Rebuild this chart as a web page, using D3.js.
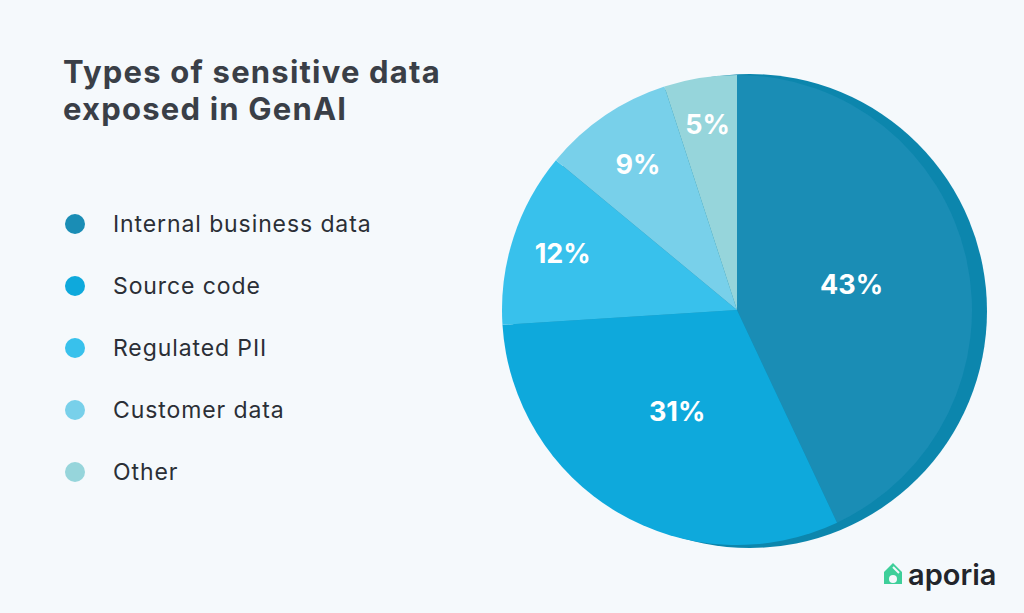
<!DOCTYPE html>
<html lang="en">
<head>
<meta charset="UTF-8">
<script src="https://d3js.org/d3.v7.min.js"></script>
<style>
  body { margin: 0; background: #f5f9fc; }
  svg { display: block; font-family: Inter, "Open Sans", sans-serif; }
</style>
</head>
<body>
<script>
const categories = ["Internal business data", "Source code", "Regulated PII", "Customer data", "Other"];
const values = [43, 31, 12, 9, 5];
const colors = ["#1a8db5", "#0ea9dc", "#38c1ec", "#78d0ea", "#96d5db"];

const width = 1024, height = 613;
const cx = 737, cy = 310, r = 235;

const svg = d3.select("body").append("svg")
  .attr("width", width).attr("height", height);

svg.append("rect").attr("width", width).attr("height", height).attr("fill", "#f5f9fc");

// title
svg.append("text").attr("x", 63).attr("y", 0)
  .attr("font-size", 31).attr("font-weight", 700).attr("fill", "#3a3f47")
  .attr("letter-spacing", 1.2)
  .selectAll("tspan").data(["Types of sensitive data", "exposed in GenAI"]).join("tspan")
  .attr("x", 63).attr("y", (d, i) => 83 + i * 37).text(d => d);

// legend
const ly = d3.scalePoint().domain(categories).range([224, 472]);
const leg = svg.append("g").selectAll("g").data(categories).join("g")
  .attr("transform", d => `translate(0,${ly(d)})`);
leg.append("circle").attr("cx", 75).attr("r", 10).attr("fill", (d, i) => colors[i]);
leg.append("text").attr("x", 113).attr("dy", "0.35em")
  .attr("font-size", 23).attr("letter-spacing", 0.9).attr("fill", "#2b2f36").text(d => d);

// rim (shadow disc)
svg.append("circle").attr("cx", cx + 13).attr("cy", cy + 1).attr("r", 237).attr("fill", "#0c86ad");

const pie = d3.pie().sort(null).value(d => d)(values);
const arc = d3.arc().innerRadius(0).outerRadius(r);

const g = svg.append("g").attr("transform", `translate(${cx},${cy})`);
g.selectAll("path").data(pie).join("path")
  .attr("d", arc).attr("fill", (d, i) => colors[i]);

const labelR = [0.5, 0.5, 0.78, 0.75, 0.8];
g.selectAll("text").data(pie).join("text")
  .attr("transform", (d, i) => {
    const a = d3.arc().innerRadius(r * labelR[i]).outerRadius(r * labelR[i]);
    return `translate(${a.centroid(d)})`;
  })
  .attr("text-anchor", "middle").attr("dy", "0.35em")
  .attr("font-size", 27).attr("font-weight", 700).attr("fill", "#fff")
  .text(d => d.data + "%");

// logo
const logo = svg.append("g").attr("transform", "translate(893,576)");
logo.append("path").attr("d", "M0,-13 L9,-4 L9,8 L-9,8 L-9,-4 Z").attr("fill", "#3ecf9a");
logo.append("circle").attr("cy", 3).attr("r", 4).attr("fill", "#f5f9fc");
logo.append("path").attr("d", "M0,-9 L6,-3").attr("stroke", "#f5f9fc").attr("stroke-width", 2);
svg.append("text").attr("x", 908).attr("y", 585).attr("font-size", 29).attr("font-weight", 600)
  .attr("fill", "#22252b").text("aporia");
</script>
</body>
</html>
